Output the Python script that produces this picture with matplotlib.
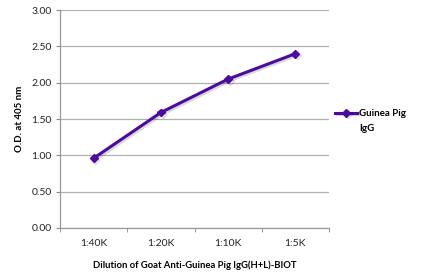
import matplotlib
matplotlib.use('Agg')
from matplotlib import pyplot as plt
import matplotlib.patheffects as pe
import numpy as np

dilutions = ['1:40K', '1:20K', '1:10K', '1:5K']
od_values = [0.96, 1.59, 2.05, 2.40]
series_name = ['Guinea Pig', 'IgG']   # legend text wraps onto two lines
y_ticks = [0.0, 0.5, 1.0, 1.5, 2.0, 2.5, 3.0]

plt.rcParams['font.family'] = ['Lato', 'DejaVu Sans']

fig = plt.figure(figsize=(4.21, 2.73), dpi=100)
ax = fig.add_axes([0.1425, 0.165, 0.639, 0.798])

x = np.arange(len(dilutions))
color = '#4c0a9e'
line, = ax.plot(x, od_values, color=color, lw=2.2, marker='D', markersize=4,
                label=series_name[0],
                path_effects=[pe.SimpleLineShadow(offset=(1.2, -1.2), alpha=0.15),
                              pe.Normal()])

ax.set_xlim(-0.5, len(dilutions) - 0.5)
ax.set_ylim(0, 3.0)
ax.set_yticks(y_ticks)
ax.set_yticklabels(['%.2f' % v for v in y_ticks], fontsize=7.5, color='#222222')
ax.set_xticks(x)
ax.set_xticklabels(dilutions, fontsize=7.5, color='#222222')
ax.set_xticks(np.arange(-0.5, len(dilutions)), minor=True)
ax.tick_params(axis='x', which='major', length=0, pad=8)
ax.tick_params(axis='x', which='minor', length=3, color='#888888', direction='out')
ax.tick_params(axis='y', length=3, color='#888888', pad=3)

ax.yaxis.grid(True, color='#b0b0b0', lw=0.9)
ax.set_axisbelow(True)
for s in ['top', 'right']:
    ax.spines[s].set_visible(False)
for s in ['left', 'bottom']:
    ax.spines[s].set_color('#999999')
    ax.spines[s].set_linewidth(0.9)

ax.set_ylabel('O.D. at 405 nm', fontsize=7, fontweight='bold', labelpad=5)
ax.set_xlabel('Dilution of Goat Anti-Guinea Pig IgG(H+L)-BIOT', fontsize=6.8,
              fontweight='bold', labelpad=9)

leg = ax.legend(loc='center left', bbox_to_anchor=(1.0, 0.525), frameon=False,
                prop={'size': 7, 'weight': 'bold'}, handlelength=2.3,
                handletextpad=0.2, borderaxespad=0.2)
# second line of the series name, under the first legend line
ax.annotate(series_name[1], xy=(0, 0), xycoords=leg.get_texts()[0],
            xytext=(0, -4), textcoords='offset points', va='top', ha='left',
            fontsize=7, fontweight='bold', zorder=10, annotation_clip=False)

fig.savefig('out.png', dpi=100)
